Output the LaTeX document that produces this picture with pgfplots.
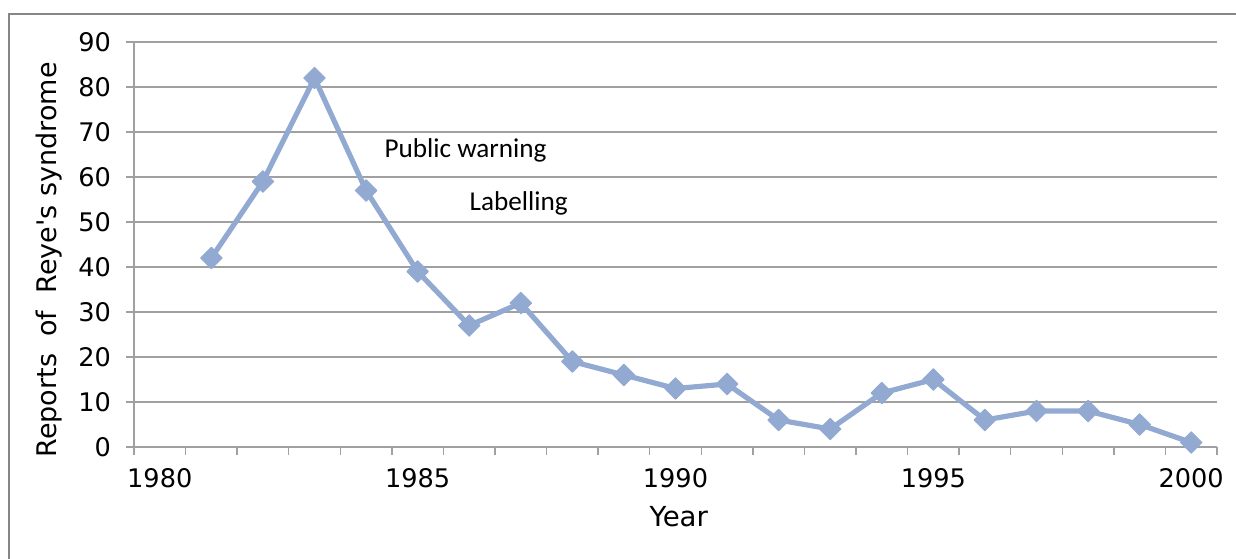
\documentclass[border=0pt]{standalone}
\usepackage{fontspec}
\setmainfont{DejaVu Sans}
\newfontfamily\calib{Carlito}
\usepackage{pgfplots}
\pgfplotsset{compat=1.18}
\definecolor{linec}{RGB}{146,169,210}
\definecolor{gridc}{RGB}{160,160,160}
\definecolor{framec}{RGB}{134,134,134}
\begin{document}
\begin{tikzpicture}
\path[use as bounding box] (-67pt,-55.5pt) rectangle (551pt,223.5pt);
\begin{axis}[
  scale only axis, width=541.5pt, height=202.5pt,
  xmin=1979.5, xmax=2000.5, ymin=0, ymax=90,
  axis x line*=bottom, axis y line*=left,
  axis line style={gridc, line width=0.75pt},
  ytick={0,10,...,90}, ymajorgrids,
  grid style={gridc, line width=0.75pt},
  xtick={1980,1985,...,2000},
  minor xtick={1979.5,1980.5,...,2000.5},
  tick align=outside,
  major tick length=4pt, minor tick length=4pt,
  tick style={gridc, line width=0.75pt},
  major x tick style={draw=none},
  x tick label style={/pgf/number format/1000 sep={}},
  ticklabel style={font=\fontsize{12.8}{14}\selectfont, text=black},
  /pgf/number format/assume math mode=true,
  xticklabel style={yshift=-3pt},
  yticklabel style={xshift=-4pt},
  xlabel={Year},
  ylabel={Reports\ \ of\ \ Reye\textquotesingle s syndrome},
  every axis x label/.style={at={(axis description cs:0.503,-0.173)}, anchor=center, font=\fontsize{13.8}{15}\selectfont, text=black},
  every axis y label/.style={at={(axis description cs:-0.0785,0.462)}, anchor=center, rotate=90, font=\fontsize{13.5}{15}\selectfont, text=black},
  clip=false,
]
\addplot[linec, line width=2.6pt, line join=round, mark=square*, mark size=3.8pt,
  mark options={rotate=45, fill=linec, draw=linec, line width=0.5pt, solid}]
  coordinates {
  (1981,42) (1982,59) (1983,82) (1984,57) (1985,39) (1986,27) (1987,32)
  (1988,19) (1989,16) (1990,13) (1991,14) (1992,6) (1993,4) (1994,12)
  (1995,15) (1996,6) (1997,8) (1998,8) (1999,5) (2000,1)
  };
\node[anchor=west, inner sep=0pt, font=\calib\fontsize{13.6}{15}\selectfont] at (axis cs:1984.35,66) {Public warning};
\node[anchor=west, inner sep=0pt, font=\calib\fontsize{13.6}{15}\selectfont] at (axis cs:1986.0,54.2) {Labelling};
\end{axis}
\draw[framec, line width=1pt] (-62.5pt,216.5pt) rectangle (580pt,-80pt);
\end{tikzpicture}
\end{document}
